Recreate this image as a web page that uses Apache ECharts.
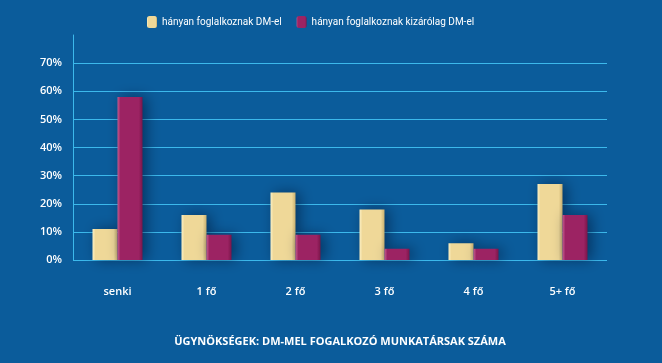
<!DOCTYPE html>
<html><head><meta charset="utf-8">
<script src="https://cdn.jsdelivr.net/npm/echarts@6/dist/echarts.min.js"></script>
<style>html,body{margin:0;padding:0;background:#0b5c9b;}#c{width:662px;height:363px;}</style>
</head><body><div id="c"></div>
<script>
const categories = ['senki', '1 fő', '2 fő', '3 fő', '4 fő', '5+ fő'];
const seriesNames = ['hányan foglalkoznak DM-el', 'hányan foglalkoznak kizárólag DM-el'];
const dmValues = [11, 16, 24, 18, 6, 27];
const onlyDmValues = [58, 9, 9, 4, 4, 16];
const yTicks = [0, 10, 20, 30, 40, 50, 60, 70];
const xTitle = 'ÜGYNÖKSÉGEK: DM-MEL FOGALKOZÓ MUNKATÁRSAK SZÁMA';

const chart = echarts.init(document.getElementById('c'));
function bevel(c1, c2, c3) {
  return new echarts.graphic.LinearGradient(0, 0, 1, 0, [
    {offset: 0, color: c1}, {offset: 0.12, color: c2}, {offset: 0.85, color: c2}, {offset: 1, color: c3}
  ]);
}
chart.setOption({
  backgroundColor: '#0b5c9b',
  textStyle: {fontFamily: 'Open Sans'},
  legend: {
    top: 11, left: 142, itemWidth: 10, itemHeight: 12, itemGap: 15,
    textStyle: {color: '#ffffff', fontSize: 10, fontFamily: 'Roboto'},
    data: seriesNames
  },
  grid: {left: 73, right: 55, top: 35, bottom: 103},
  xAxis: {
    type: 'category', data: categories,
    name: xTitle, nameLocation: 'middle', nameGap: 76,
    nameTextStyle: {color: '#ffffff', fontSize: 11, fontWeight: 'bold'},
    axisLine: {show: false}, axisTick: {show: false},
    axisLabel: {color: '#ffffff', fontSize: 11, margin: 26, fontWeight: 600}
  },
  yAxis: {
    type: 'value', min: 0, max: 80, interval: 10,
    axisLine: {show: true, lineStyle: {color: '#3cb9ec', width: 1}},
    axisTick: {show: false},
    axisLabel: {color: '#ffffff', fontSize: 11, margin: 11, fontWeight: 600,
      formatter: v => yTicks.includes(v) ? v + '%' : ''},
    splitLine: {lineStyle: {color: '#3cb9ec', width: 1},
      showMaxLine: false}
  },
  series: [
    {name: seriesNames[0], type: 'bar', data: dmValues, barWidth: 25, barGap: '0%',
     itemStyle: {color: bevel('#fbf0c4', '#efd898', '#c9b070'), shadowColor: 'rgba(0,20,50,0.55)', shadowBlur: 14, shadowOffsetX: 4}},
    {name: seriesNames[1], type: 'bar', data: onlyDmValues, barWidth: 25,
     itemStyle: {color: bevel('#c45a8e', '#9c2363', '#7a1549'), shadowColor: 'rgba(0,20,50,0.55)', shadowBlur: 14, shadowOffsetX: 4}}
  ]
});
</script></body></html>
